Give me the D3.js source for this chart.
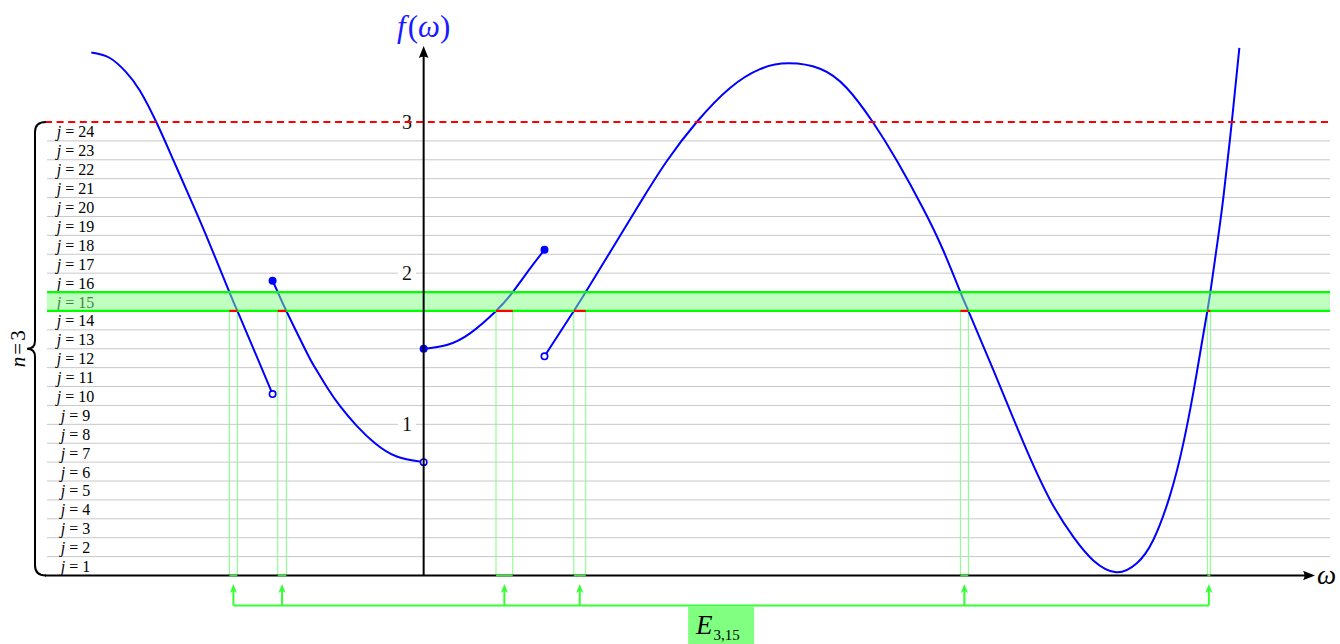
<!DOCTYPE html>
<html>
<head>
<meta charset="utf-8">
<script src="https://cdn.jsdelivr.net/npm/d3@7"></script>
<style>
  body { margin: 0; background: #fff; }
  svg { display: block; }
  text { font-family: "Liberation Serif", "Times New Roman", serif; }
</style>
</head>
<body>
<svg id="chart" width="1340" height="644"></svg>
<script>
// Piecewise function f(ω), each branch sampled as [ω, f(ω)]
const branch1 = [[-2.20, 3.46], [-2.08, 3.425], [-1.97, 3.33], [-1.88, 3.21], [-1.77, 3.00],
  [-1.66, 2.755], [-1.55, 2.505], [-1.44, 2.25], [-1.286, 1.875], [-1.233, 1.75], [-1.12, 1.485], [-1.00, 1.20]];
const branch2 = [[-1.00, 1.95], [-0.966, 1.875], [-0.909, 1.75], [-0.774, 1.475], [-0.719, 1.375],
  [-0.641, 1.247], [-0.553, 1.12], [-0.443, 0.99], [-0.322, 0.875], [-0.178, 0.787], [0.00, 0.75]];
const branch3 = [[0.00, 1.50], [0.153, 1.525], [0.307, 1.602], [0.479, 1.75], [0.590, 1.875],
  [0.704, 2.03], [0.80, 2.155]];
const branch4 = [[0.80, 1.45], [0.994, 1.75], [1.073, 1.875], [1.256, 2.175], [1.433, 2.465],
  [1.609, 2.74], [1.808, 3.00], [2.028, 3.225], [2.227, 3.35], [2.414, 3.388], [2.624, 3.352],
  [2.801, 3.225], [2.973, 3.00], [3.132, 2.745], [3.308, 2.425], [3.44, 2.15], [3.553, 1.875],
  [3.606, 1.75], [3.771, 1.36], [3.970, 0.88], [4.147, 0.50], [4.301, 0.255], [4.433, 0.10],
  [4.585, 0.022], [4.721, 0.081], [4.830, 0.235], [4.941, 0.53], [5.029, 0.874], [5.095, 1.21],
  [5.140, 1.47], [5.188, 1.75], [5.208, 1.875], [5.25, 2.17], [5.294, 2.50], [5.35, 3.00], [5.40, 3.49]];
const branches = [branch1, branch2, branch3, branch4];
// endpoint style of each branch: [start, end]
const branchEnds = [[null, "open"], ["closed", "open"], ["closed", "closed"], ["open", null]];

// Quantisation levels: n = 3 gives 2^n * n = 24 levels of height 1/8
const nBits = 3;
const levelValues = [1, 2, 3, 4, 5, 6, 7, 8, 9, 10, 11, 12, 13, 14, 15, 16, 17, 18, 19, 20, 21, 22, 23, 24];
const levelStep = 1 / 8;
const selectedLevel = 15;
const yTickValues = [1, 2, 3];

const svg = d3.select("#chart");
const x = d3.scaleLinear().domain([-2.5, 6.0]).range([46, 1330]);
const y = d3.scaleLinear().domain([0, 3]).range([575.5, 122]);

const xLeft = 47, xRight = 1330;
const yMax = levelValues.length * levelStep;
const bandLow = (selectedLevel - 1) * levelStep;
const bandHigh = selectedLevel * levelStep;

// grid lines between levels
svg.append("g").selectAll("line")
  .data(levelValues.slice(0, -1))
  .join("line")
  .attr("x1", xLeft).attr("x2", xRight)
  .attr("y1", d => y(d * levelStep)).attr("y2", d => y(d * levelStep))
  .attr("stroke", "#c8c8c8").attr("stroke-width", 1);

// level labels j=1 … j=24
const jl = svg.append("g").selectAll("text")
  .data(levelValues)
  .join("text")
  .attr("x", 75.5)
  .attr("y", d => y((d - 0.5) * levelStep))
  .attr("text-anchor", "middle")
  .attr("dominant-baseline", "central")
  .attr("font-size", 16)
  .attr("fill", "#000");
jl.append("tspan").attr("font-style", "italic").text("j");
jl.append("tspan").attr("dx", 4).text("=");
jl.append("tspan").attr("dx", 4).text(d => d);

// ω-intervals where the function lies inside the selected level band
function crossings(branch, level) {
  const out = [];
  for (let i = 1; i < branch.length; i++) {
    const [w0, v0] = branch[i - 1], [w1, v1] = branch[i];
    if (v1 === level) out.push(w1);
    else if ((v0 - level) * (v1 - level) < 0) out.push(w0 + (level - v0) * (w1 - w0) / (v1 - v0));
  }
  return out;
}
const intervals = [];
branches.forEach(b => {
  const cs = crossings(b, bandLow).concat(crossings(b, bandHigh)).sort((a, b) => a - b);
  for (let i = 0; i + 1 < cs.length; i += 2) intervals.push([cs[i], cs[i + 1]]);
});

// preimage strips down to the ω axis
svg.append("g").selectAll("rect")
  .data(intervals)
  .join("rect")
  .attr("x", d => x(d[0])).attr("width", d => x(d[1]) - x(d[0]))
  .attr("y", y(bandLow)).attr("height", y(0) - y(bandLow))
  .attr("fill", "none").attr("stroke", "#80ff80").attr("stroke-width", 1);

// the function
const line = d3.line().x(d => x(d[0])).y(d => y(d[1])).curve(d3.curveNatural);
svg.append("g").selectAll("path")
  .data(branches)
  .join("path")
  .attr("d", line)
  .attr("fill", "none").attr("stroke", "#0000ff").attr("stroke-width", 2);

// endpoint markers
const markers = [];
branches.forEach((b, i) => {
  if (branchEnds[i][0]) markers.push({ p: b[0], kind: branchEnds[i][0] });
  if (branchEnds[i][1]) markers.push({ p: b[b.length - 1], kind: branchEnds[i][1] });
});
svg.append("g").selectAll("circle")
  .data(markers)
  .join("circle")
  .attr("cx", d => x(d.p[0])).attr("cy", d => y(d.p[1]))
  .attr("r", d => d.kind === "closed" ? 4 : 3.2)
  .attr("fill", d => d.kind === "closed" ? "#0000ff" : "#fff")
  .attr("stroke", "#0000ff").attr("stroke-width", d => d.kind === "closed" ? 0 : 1.6);

// selected level band
svg.append("rect")
  .attr("x", xLeft).attr("width", xRight - xLeft)
  .attr("y", y(bandHigh)).attr("height", y(bandLow) - y(bandHigh))
  .attr("fill", "#80ff80").attr("fill-opacity", 0.5);
svg.append("g").selectAll("line")
  .data([bandLow, bandHigh])
  .join("line")
  .attr("x1", xLeft).attr("x2", xRight)
  .attr("y1", d => y(d)).attr("y2", d => y(d))
  .attr("stroke", "#00ff00").attr("stroke-width", 2.2);
svg.append("g").selectAll("line")
  .data(intervals)
  .join("line")
  .attr("x1", d => x(d[0])).attr("x2", d => x(d[1]))
  .attr("y1", y(bandLow)).attr("y2", y(bandLow))
  .attr("stroke", "#ff0000").attr("stroke-width", 2.2);

// y tick labels with white background
const tickG = svg.append("g").selectAll("g")
  .data(yTickValues)
  .join("g");
tickG.append("rect")
  .attr("x", 398).attr("width", 18)
  .attr("y", d => y(d) - 9).attr("height", 18)
  .attr("fill", "#fff");
tickG.append("text")
  .attr("x", 412).attr("y", d => y(d))
  .attr("text-anchor", "end").attr("dominant-baseline", "central")
  .attr("font-size", 20).attr("fill", "#111")
  .text(d => d);

// top level (saturation) line
svg.append("line")
  .attr("x1", 45).attr("x2", xRight)
  .attr("y1", y(yMax)).attr("y2", y(yMax))
  .attr("stroke", "#ff0000").attr("stroke-width", 2)
  .attr("stroke-dasharray", "7,4.6");

// axes
svg.append("line")
  .attr("x1", 45).attr("x2", 1306).attr("y1", y(0)).attr("y2", y(0))
  .attr("stroke", "#000").attr("stroke-width", 2);
svg.append("path")
  .attr("d", `M1315,${y(0)} L1303,${y(0) - 4.8} Q1306,${y(0)} 1303,${y(0) + 4.8} Z`)
  .attr("fill", "#000");
svg.append("line")
  .attr("x1", x(0)).attr("x2", x(0)).attr("y1", y(0)).attr("y2", 56)
  .attr("stroke", "#000").attr("stroke-width", 2);
svg.append("path")
  .attr("d", `M${x(0)},46 L${x(0) - 4.8},58 Q${x(0)},55 ${x(0) + 4.8},58 Z`)
  .attr("fill", "#000");

// strip bases on the ω axis
svg.append("g").selectAll("line")
  .data(intervals)
  .join("line")
  .attr("x1", d => x(d[0])).attr("x2", d => x(d[1]))
  .attr("y1", y(0)).attr("y2", y(0))
  .attr("stroke", "#44dd44").attr("stroke-width", 2);

// preimage set E_{n,j}: bracket with arrows to each strip
const arrowY0 = 605.5, arrowTip = 584;
const mids = intervals.map(d => x((d[0] + d[1]) / 2));
const green = "#33ff33";
svg.append("line")
  .attr("x1", d3.min(mids)).attr("x2", d3.max(mids))
  .attr("y1", arrowY0).attr("y2", arrowY0)
  .attr("stroke", green).attr("stroke-width", 2);
const arr = svg.append("g").selectAll("g").data(mids).join("g");
arr.append("line")
  .attr("x1", d => d).attr("x2", d => d)
  .attr("y1", arrowY0).attr("y2", arrowTip + 5)
  .attr("stroke", green).attr("stroke-width", 2);
arr.append("path")
  .attr("d", d => `M${d},${arrowTip} L${d - 3.6},${arrowTip + 9} L${d},${arrowTip + 6.5} L${d + 3.6},${arrowTip + 9} Z`)
  .attr("fill", green);

const boxCx = (d3.min(mids) + d3.max(mids)) / 2;
svg.append("rect")
  .attr("x", boxCx - 33).attr("width", 66)
  .attr("y", arrowY0 + 1).attr("height", 40)
  .attr("fill", "#80ff80");
const eLabel = svg.append("text")
  .attr("x", boxCx - 25).attr("y", 634)
  .attr("font-size", 27).attr("fill", "#000");
eLabel.append("tspan").attr("font-style", "italic").text("E");
eLabel.append("tspan").attr("font-size", 15).attr("dy", 6).attr("dx", 1).text(`${nBits},${selectedLevel}`);

// axis titles
const fl = svg.append("text")
  .attr("x", x(0)).attr("y", 37)
  .attr("text-anchor", "middle")
  .attr("font-size", 31).attr("fill", "#1a1aff");
fl.append("tspan").attr("font-style", "italic").text("f");
fl.append("tspan").attr("dx", 2).text("(");
fl.append("tspan").attr("font-style", "italic").text("ω");
fl.append("tspan").text(")");

svg.append("text")
  .attr("x", 1317).attr("y", 584)
  .attr("font-size", 27).attr("font-style", "italic").attr("fill", "#000")
  .text("ω");

// brace spanning all levels
const bx = 35, braceTop = y(yMax), braceBot = y(0), braceMid = (braceTop + braceBot) / 2;
svg.append("path")
  .attr("d", `M46,${braceTop} Q${bx},${braceTop} ${bx},${braceTop + 10} L${bx},${braceMid - 8} Q${bx},${braceMid} ${bx - 8},${braceMid}
              Q${bx},${braceMid} ${bx},${braceMid + 8} L${bx},${braceBot - 10} Q${bx},${braceBot} 46,${braceBot}`)
  .attr("fill", "none").attr("stroke", "#000").attr("stroke-width", 2);

const nl = svg.append("text")
  .attr("transform", `translate(18,${braceMid}) rotate(-90)`)
  .attr("text-anchor", "middle").attr("dominant-baseline", "central")
  .attr("font-size", 21).attr("fill", "#000");
nl.append("tspan").attr("font-style", "italic").text("n");
nl.append("tspan").attr("dx", 2).text("=");
nl.append("tspan").attr("dx", 2).text(nBits);
</script>
</body>
</html>
